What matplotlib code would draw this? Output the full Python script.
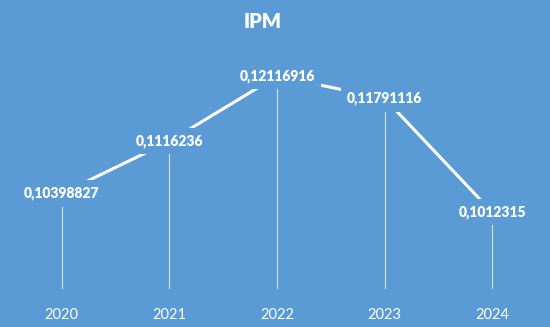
import numpy as np
import matplotlib.pyplot as plt

plt.rcParams['font.family'] = ['Lato', 'DejaVu Sans']

## chart data
years = ['2020', '2021', '2022', '2023', '2024']
ipm = [0.10398827, 0.1116236, 0.12116916, 0.11791116, 0.1012315]

bg = '#5B9BD5'
fig = plt.figure(figsize=(5.5, 3.27), dpi=100, facecolor=bg)
ax = fig.add_axes([8/550, 38/327, 538/550, 239/327])
ax.set_facecolor(bg)

x = np.arange(len(years))
ax.vlines(x, 0.09, ipm, color='white', linewidth=0.8, alpha=0.75, zorder=1)
ax.plot(x, ipm, color='white', linewidth=2.2, solid_capstyle='butt', zorder=2)

# data labels sit on top of the points, hiding the line behind them
for xi, v in zip(x, ipm):
    ax.text(xi, v, str(v).replace('.', ','), ha='center', va='center',
            color='white', fontsize=10, fontweight='heavy', zorder=3,
            bbox=dict(boxstyle='square,pad=0.45', facecolor=bg, edgecolor='none'))

ax.set_xlim(-0.5, len(years) - 0.5)
ax.set_ylim(0.09, 0.125)
ax.set_xticks(x)
ax.set_xticklabels(years, color='white', fontsize=10.5)
ax.tick_params(axis='x', length=0, pad=14)
ax.set_yticks([])
for s in ax.spines.values():
    s.set_visible(False)

fig.text(263/550, 1 - 21/327, 'IPM', ha='center', va='center', color='white',
         fontsize=14.5, fontweight='heavy')

plt.savefig('out.png', dpi=100, facecolor=bg)
